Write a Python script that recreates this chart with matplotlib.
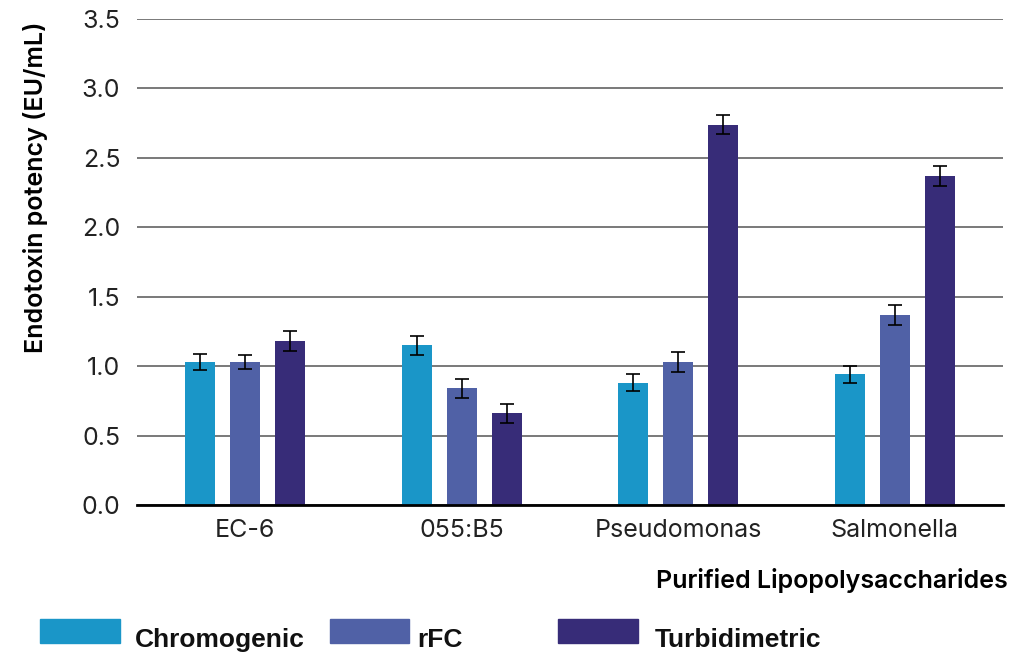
import numpy as np
import matplotlib
matplotlib.use("Agg")
import matplotlib.pyplot as plt
from matplotlib.patches import Rectangle

# data
groups = ["EC-6", "055:B5", "Pseudomonas", "Salmonella"]
series = ["Chromogenic", "rFC", "Turbidimetric"]
chromogenic = [1.03, 1.15, 0.88, 0.94]
rfc = [1.03, 0.84, 1.03, 1.37]
turbidimetric = [1.18, 0.66, 2.74, 2.37]
chromogenic_err = [0.06, 0.07, 0.06, 0.06]
rfc_err = [0.05, 0.07, 0.07, 0.07]
turbidimetric_err = [0.07, 0.07, 0.07, 0.07]

colors = ["#1a96c8", "#5061a6", "#372c78"]
plt.rcParams["font.family"] = ["Inter", "DejaVu Sans"]

fig = plt.figure(figsize=(10.34, 6.54), dpi=100)
ax = fig.add_axes([0.1325, 0.2278, 0.8375, 0.7431])

x = np.arange(len(groups))
w = 0.139
off = 0.208
vals = [chromogenic, rfc, turbidimetric]
errs = [chromogenic_err, rfc_err, turbidimetric_err]
for i in range(3):
    ax.bar(x + (i - 1) * off, vals[i], w, color=colors[i], zorder=3,
           yerr=errs[i], capsize=5, error_kw=dict(ecolor="black", elinewidth=1.2, capthick=1.2, zorder=4))

ax.set_xlim(-0.5, 3.5)
ax.set_ylim(0, 3.5)
ax.set_yticks(np.arange(0, 3.51, 0.5))
ax.set_yticklabels([f"{v:.1f}" for v in np.arange(0, 3.51, 0.5)])
ax.set_xticks(x)
ax.set_xticklabels(groups)
ax.tick_params(length=0, labelsize=18, colors="#222222")
ax.tick_params(axis="x", pad=10)
ax.tick_params(axis="y", pad=12)
ax.grid(axis="y", color="#6e6e6e", lw=1.3, zorder=0)
for s in ["top", "right", "left"]:
    ax.spines[s].set_visible(False)
ax.spines["bottom"].set_linewidth(2)
ax.spines["bottom"].set_zorder(5)

# y label sits higher than the axis centre in the original
fig.text(0.034, 0.714, "Endotoxin potency (EU/mL)", rotation=90, ha="center", va="center",
         fontsize=18, fontweight="semibold")
fig.text(0.975, 0.113, "Purified Lipopolysaccharides", ha="right", va="center",
         fontsize=18, fontweight="semibold")

# legend drawn by hand
legend_pos = [(0.039, 0.130), (0.319, 0.404), (0.540, 0.633)]
for (px, tx), name, c in zip(legend_pos, series, colors):
    fig.patches.append(Rectangle((px, 0.017), 0.077, 0.037, transform=fig.transFigure,
                                 color=c, zorder=3))
    fig.text(tx, 0.021, name, ha="left", va="center", fontsize=19, fontweight="bold",
             family=["Liberation Sans", "DejaVu Sans"], color="#111111")

fig.savefig("out.png", dpi=100)
